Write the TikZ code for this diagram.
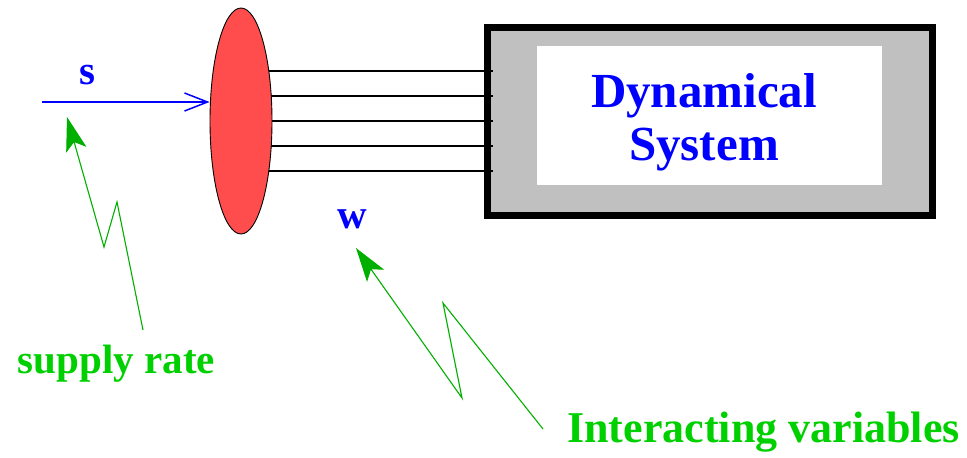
\documentclass[tikz,border=0pt]{standalone}
\usepackage{fontspec}
\setmainfont{Liberation Serif}
\usetikzlibrary{shapes.geometric,arrows.meta,backgrounds}
\definecolor{portred}{RGB}{255,77,77}
\definecolor{sysgray}{RGB}{192,192,192}
\definecolor{txtgreen}{RGB}{0,208,0}
\definecolor{arrgreen}{RGB}{0,175,0}
\tikzset{
  bluelabel/.style={text=blue, font=\fontsize{41}{41}\selectfont\bfseries, anchor=base, inner sep=0pt},
  greenlabel/.style={text=txtgreen, font=\fontsize{#1}{#1}\selectfont\bfseries, anchor=base, inner sep=0pt},
  wire/.style={line width=1.6pt, black},
  pointer/.style={arrgreen, line width=1.1pt, -{Stealth[length=34pt,width=21pt,inset=8pt]}},
}
\begin{document}
\begin{tikzpicture}[x=1pt,y=-1pt]
\useasboundingbox (0,0) rectangle (967,458);
% port ellipse
\node[ellipse, draw=black, line width=0.9pt, fill=portred, minimum width=62pt, minimum height=226pt, inner sep=0pt] (port) at (241,121) {};
\begin{pgfonlayer}{background}
% dynamical system box
\node[rectangle, draw=black, line width=7pt, fill=sysgray, minimum width=445pt, minimum height=188pt, inner sep=0pt] (sys) at (710,121.5) {};
\node[rectangle, fill=white, minimum width=345pt, minimum height=139pt, inner sep=0pt] (inner) at (709.5,115.5) {};
% wires
\foreach \dy in {-50,-25,0,25,50} {
  \draw[wire] ([yshift=-\dy pt]port.center) -- ([yshift=-\dy pt, xshift=9pt]sys.west |- port.center);
}
\end{pgfonlayer}
\node[text=blue, font=\fontsize{49}{53}\selectfont\bfseries, align=center, anchor=base, inner sep=0pt] (dyn) at (704,160) {Dynamical\\System};
% supply input
\coordinate (sin) at (42,102);
\draw[blue, line width=1.5pt, -{Straight Barb[length=23pt,width=18pt]}] (sin) -- (sin -| port.west);
\node[bluelabel] (slab) at (87,84) {s};
\node[bluelabel] (wlab) at (352,228) {w};
% labels
\node[greenlabel=41] (sr) at (116.5,373) {supply rate};
\node[greenlabel=44] (iv) at (763.5,442) {Interacting variables};
% zigzag pointers
\coordinate (sr0) at (143,330);
\coordinate (sr1) at (117,202);
\coordinate (sr2) at (104,247);
\coordinate (srt) at (67,117);
\draw[pointer] (sr0) -- (sr1) -- (sr2) -- (srt);
\coordinate (iv0) at (543,429);
\coordinate (iv1) at (443,303);
\coordinate (iv2) at (462,398);
\coordinate (ivt) at (356,248);
\draw[pointer] (iv0) -- (iv1) -- (iv2) -- (ivt);
\end{tikzpicture}
\end{document}
